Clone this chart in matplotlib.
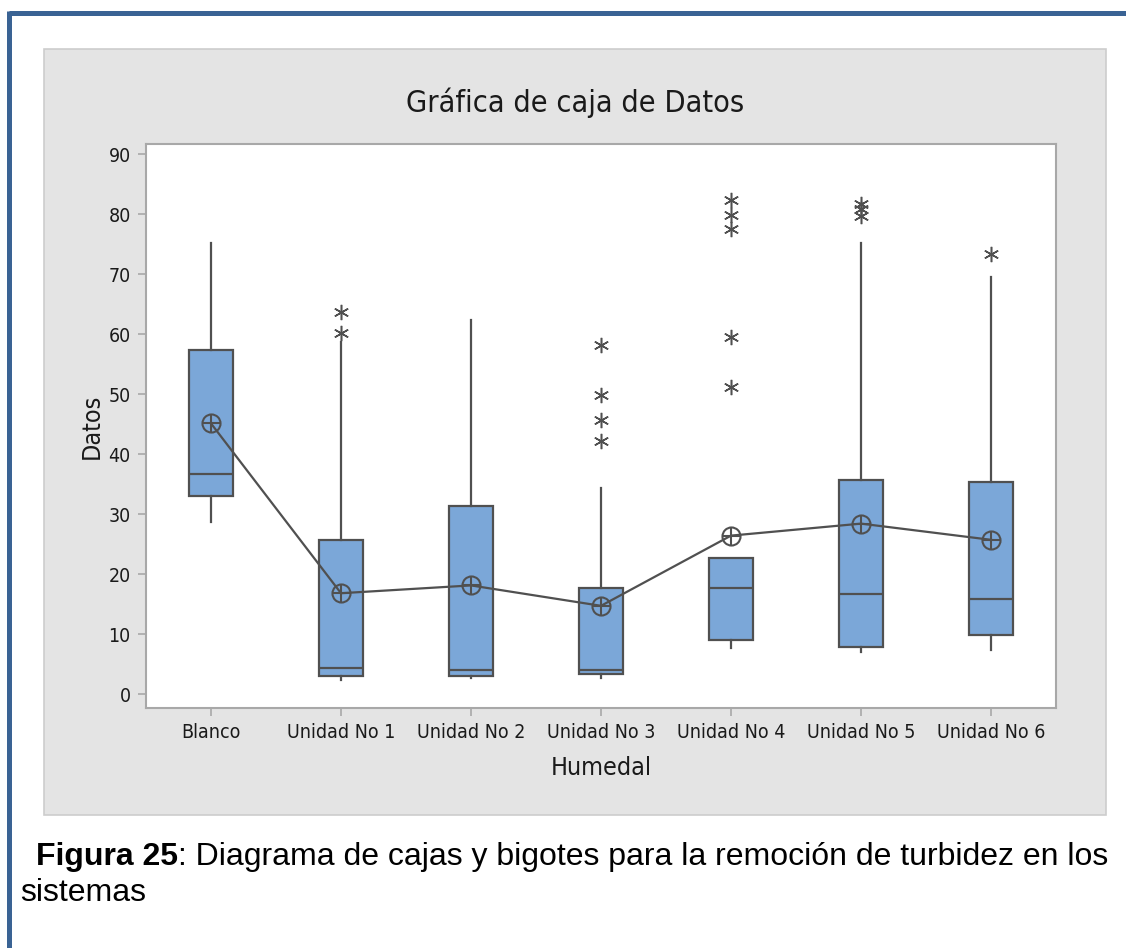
import matplotlib
matplotlib.use("Agg")
import matplotlib.pyplot as plt
from matplotlib.patches import FancyBboxPatch
from matplotlib.lines import Line2D

# ---- data ----
categories = ["Blanco", "Unidad No 1", "Unidad No 2", "Unidad No 3",
              "Unidad No 4", "Unidad No 5", "Unidad No 6"]
q1 = [33.0, 3.0, 3.0, 3.4, 9.0, 7.9, 9.9]
medians = [36.6, 4.3, 4.0, 4.0, 17.6, 16.6, 15.9]
q3 = [57.3, 25.7, 31.4, 17.7, 22.6, 35.6, 35.3]
whisker_low = [28.7, 2.3, 2.7, 2.7, 7.6, 7.0, 7.3]
whisker_high = [75.2, 58.6, 62.3, 34.3, 22.6, 75.2, 69.5]
means = [45.1, 16.8, 18.1, 14.7, 26.4, 28.4, 25.7]
outliers = [
    [],
    [63.6, 60.2],
    [],
    [58.1, 49.9, 45.7, 42.2],
    [82.3, 79.9, 77.5, 59.5, 51.2],
    [81.6, 80.8, 79.7],
    [73.3],
]
yticks = [0, 10, 20, 30, 40, 50, 60, 70, 80, 90]

W, H = 1126, 948
fig = plt.figure(figsize=(W / 100, H / 100), dpi=100)
fig.patch.set_facecolor("white")

# blue page border (top and left)
fig.add_artist(Line2D([8.5 / W, 1.0], [1 - 13 / H, 1 - 13 / H], color="#3A6394",
                      lw=3.6, transform=fig.transFigure, solid_capstyle="butt"))
fig.add_artist(Line2D([8.5 / W, 8.5 / W], [1 - 11 / H, 0.0], color="#3A6394",
                      lw=3.6, transform=fig.transFigure, solid_capstyle="butt"))

# gray graph panel
panel = FancyBboxPatch((44 / W, 1 - 815 / H), (1106 - 44) / W, (815 - 49) / H,
                       boxstyle="square,pad=0", transform=fig.transFigure,
                       facecolor="#E4E4E4", edgecolor="#CDCDCD", lw=1.2, zorder=0)
fig.add_artist(panel)

ax = fig.add_axes([146 / W, 1 - 708 / H, 910 / W, 564 / H])
ax.set_facecolor("white")

stats = []
for i in range(len(categories)):
    stats.append(dict(med=medians[i], q1=q1[i], q3=q3[i], whislo=whisker_low[i],
                      whishi=whisker_high[i], fliers=outliers[i], mean=means[i],
                      label=categories[i]))

pos = list(range(len(categories)))
edge = "#505050"
ax.bxp(stats, positions=pos, widths=0.34, showcaps=False, showmeans=False,
       showfliers=True, patch_artist=True,
       boxprops=dict(facecolor="#7BA7D8", edgecolor=edge, linewidth=1.6),
       medianprops=dict(color=edge, linewidth=1.6),
       whiskerprops=dict(color=edge, linewidth=1.6),
       flierprops=dict(marker=(6, 2, 0), markersize=11, markeredgecolor=edge,
                       markerfacecolor=edge, markeredgewidth=1.1, linestyle="none"))

# mean connect line and circled-plus symbols
ax.plot(pos, means, color=edge, lw=1.6, zorder=4)
ax.plot(pos, means, linestyle="none", marker="o", markersize=13,
        markerfacecolor="none", markeredgecolor=edge, markeredgewidth=1.5, zorder=5)
ax.plot(pos, means, linestyle="none", marker="+", markersize=13,
        markeredgecolor=edge, markeredgewidth=1.5, zorder=5)

ax.set_xlim(-0.5, 6.5)
ax.set_ylim(-2.33, 91.67)
ax.set_yticks(yticks)
ax.set_xticks(pos)
ax.set_xticklabels(categories)

font = dict(family="DejaVu Sans", stretch="condensed")
for lab in ax.get_xticklabels() + ax.get_yticklabels():
    lab.set_fontfamily("DejaVu Sans")
    lab.set_fontstretch("condensed")
    lab.set_fontsize(14)
    lab.set_color("#1A1A1A")

for sp in ax.spines.values():
    sp.set_color("#A8A8A8")
    sp.set_linewidth(1.5)
ax.tick_params(axis="both", direction="out", length=6, width=1.2, color="#A8A8A8",
               pad=5)

ax.set_xlabel("Humedal", fontsize=18, color="#1A1A1A", labelpad=10, **font)
ax.set_ylabel("Datos", fontsize=18, color="#1A1A1A", labelpad=3, **font)
fig.text(575 / W, 1 - 103 / H, "Gráfica de caja de Datos", ha="center", va="center",
         fontsize=22, color="#1A1A1A", **font)

# caption
cap_font = "Liberation Sans"
t1 = fig.text(36 / W, 1 - 865 / H, "Figura 25", fontsize=23, fontweight="bold",
              family=cap_font, ha="left", va="baseline", color="black")
fig.canvas.draw()
bb = t1.get_window_extent()
fig.text(bb.x1 / W, 1 - 865 / H,
         ": Diagrama de cajas y bigotes para la remoción de turbidez en los",
         fontsize=23, family=cap_font, ha="left", va="baseline", color="black")
fig.text(20 / W, 1 - 901 / H, "sistemas", fontsize=23, family=cap_font,
         ha="left", va="baseline", color="black")

fig.savefig("out.png", dpi=100)
